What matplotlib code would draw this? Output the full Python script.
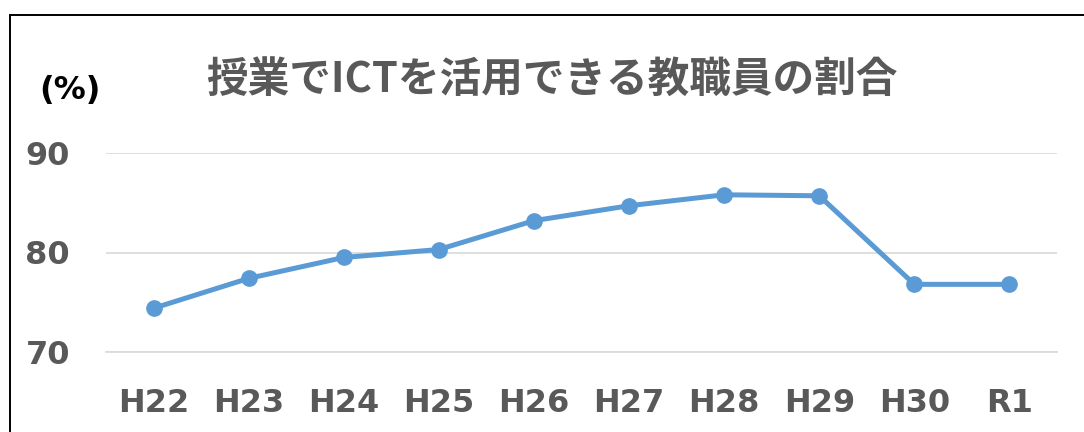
import matplotlib
matplotlib.use("Agg")
import matplotlib.pyplot as plt
from matplotlib.patches import Rectangle

categories = ["H22", "H23", "H24", "H25", "H26", "H27", "H28", "H29", "H30", "R1"]
values = [74.4, 77.4, 79.5, 80.3, 83.2, 84.7, 85.8, 85.7, 76.8, 76.8]
yticks = [70, 80, 90]
title = "授業でICTを活用できる教職員の割合"
unit_label = "(%)"

plt.rcParams['font.family'] = ['Noto Sans CJK JP', 'DejaVu Sans']

W, H = 1084, 432
fig = plt.figure(figsize=(W / 100, H / 100), dpi=100)
ax = fig.add_axes([106 / W, (H - 352) / H, (1057 - 106) / W, (352 - 153) / H])

x = list(range(len(categories)))
ax.plot(x, values, color="#5B9BD5", linewidth=3.6, marker="o", markersize=11,
        solid_capstyle="round", zorder=3, clip_on=False)

ax.set_xlim(-0.5, len(categories) - 0.5)
ax.set_ylim(70, 90)
ax.set_yticks(yticks)
ax.set_xticks(x)
ax.set_xticklabels(categories)
ax.grid(axis="y", color="#D9D9D9", linewidth=1.2)
ax.set_axisbelow(True)
for s in ["top", "right", "left"]:
    ax.spines[s].set_visible(False)
ax.spines["bottom"].set_color("#D9D9D9")
ax.spines["bottom"].set_linewidth(1.2)
ax.tick_params(axis="both", length=0, labelsize=23, labelcolor="#595959")
ax.tick_params(axis="x", pad=26)
ax.tick_params(axis="y", pad=26)
for lbl in ax.get_xticklabels() + ax.get_yticklabels():
    lbl.set_fontweight("bold")
    lbl.set_family(["DejaVu Sans"])

fig.text(552 / W, 1 - 81 / H, title, ha="center", va="center", fontsize=30,
         fontweight="bold", color="#595959")
fig.text(70 / W, 1 - 90 / H, unit_label, ha="center", va="center", fontsize=23,
         fontweight="bold", color="black", family=["DejaVu Sans"])

fig.patches.append(Rectangle((10 / W, -0.1), 1.2, 1 - 15 / H + 0.1,
                             transform=fig.transFigure, fill=False,
                             edgecolor="black", linewidth=1.4))

fig.savefig("out.png", dpi=100, facecolor="white")
